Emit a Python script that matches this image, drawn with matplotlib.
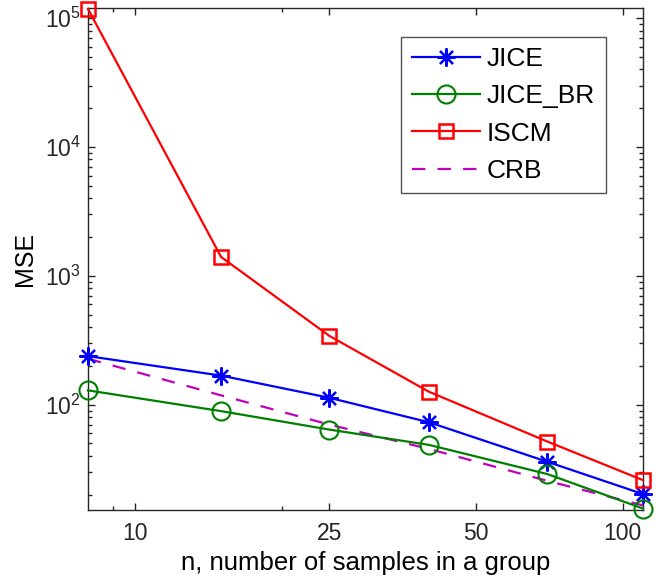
import numpy as np
import matplotlib
matplotlib.use('Agg')
import matplotlib.pyplot as plt
from matplotlib.ticker import FixedLocator, FixedFormatter, NullFormatter

plt.rcParams['font.family'] = ['Liberation Sans', 'DejaVu Sans']
plt.rcParams['mathtext.default'] = 'regular'

# ── Data ──
n = [8, 15, 25, 40, 70, 110]
mse_jice = [238, 168, 113, 73, 36, 20.2]
mse_jice_br = [129, 89, 64, 48.7, 28.9, 15.6]
mse_iscm = [1.18e5, 1400, 342, 126, 51.7, 25.9]
mse_crb = [227, 118, 70, 45.3, 25.6, 16.5]

x_ticks = [10, 25, 50, 100]
x_minor = [9, 20]
y_ticks = [1e2, 1e3, 1e4, 1e5]

fig = plt.figure(figsize=(6.61, 5.8), dpi=100)
ax = fig.add_axes([0.1331, 0.1207, 0.9728 - 0.1331, 0.9862 - 0.1207])

lw = 1.6
ax.plot(n, mse_jice, color='#0000ff', lw=lw, marker=(8, 2, 0), ms=13,
        mew=1.6, label='JICE', clip_on=False, zorder=3)
ax.plot(n, mse_jice_br, color='#008000', lw=lw, marker='o', ms=13, mew=1.5,
        mfc='none', label='JICE_BR', clip_on=False, zorder=3)
ax.plot(n, mse_iscm, color='#ff0000', lw=lw, marker='s', ms=10.5, mew=1.8,
        mfc='none', label='ISCM', clip_on=False, zorder=3)
ax.plot(n, mse_crb, color='#bf00bf', lw=lw, ls=(0, (6, 5.5)), label='CRB',
        zorder=2)

ax.set_xscale('log')
ax.set_yscale('log')
ax.set_xlim(8, 110)
ax.set_ylim(15.2, 1.2e5)

ax.xaxis.set_major_locator(FixedLocator(x_ticks))
ax.xaxis.set_major_formatter(FixedFormatter([str(t) for t in x_ticks]))
ax.xaxis.set_minor_locator(FixedLocator(x_minor))
ax.xaxis.set_minor_formatter(NullFormatter())
ax.yaxis.set_major_locator(FixedLocator(y_ticks))
ax.yaxis.set_minor_locator(FixedLocator(
    [m * 10 ** e for e in range(1, 5) for m in range(2, 10)]))
ax.yaxis.set_minor_formatter(NullFormatter())

ax.tick_params(which='both', direction='in', top=True, right=True,
               labelsize=16.5, width=1, colors='#262626')
ax.tick_params(which='major', length=5)
ax.tick_params(which='minor', length=3)
ax.tick_params(axis='x', which='major', pad=9)
ax.tick_params(axis='y', which='major', pad=5)
for s in ax.spines.values():
    s.set_linewidth(1)
    s.set_color('#262626')

ax.set_xlabel('n, number of samples in a group', fontsize=18.5, labelpad=4)
ax.set_ylabel('MSE', fontsize=18, labelpad=6)

leg = ax.legend(loc='upper right', bbox_to_anchor=(0.9325, 0.943),
                fontsize=19, frameon=True, fancybox=False,
                edgecolor='#262626', handlelength=2.6, handletextpad=0.25,
                borderpad=0.4, labelspacing=0.5, borderaxespad=0)
leg.get_frame().set_linewidth(1)

plt.savefig('out.png', dpi=100)
